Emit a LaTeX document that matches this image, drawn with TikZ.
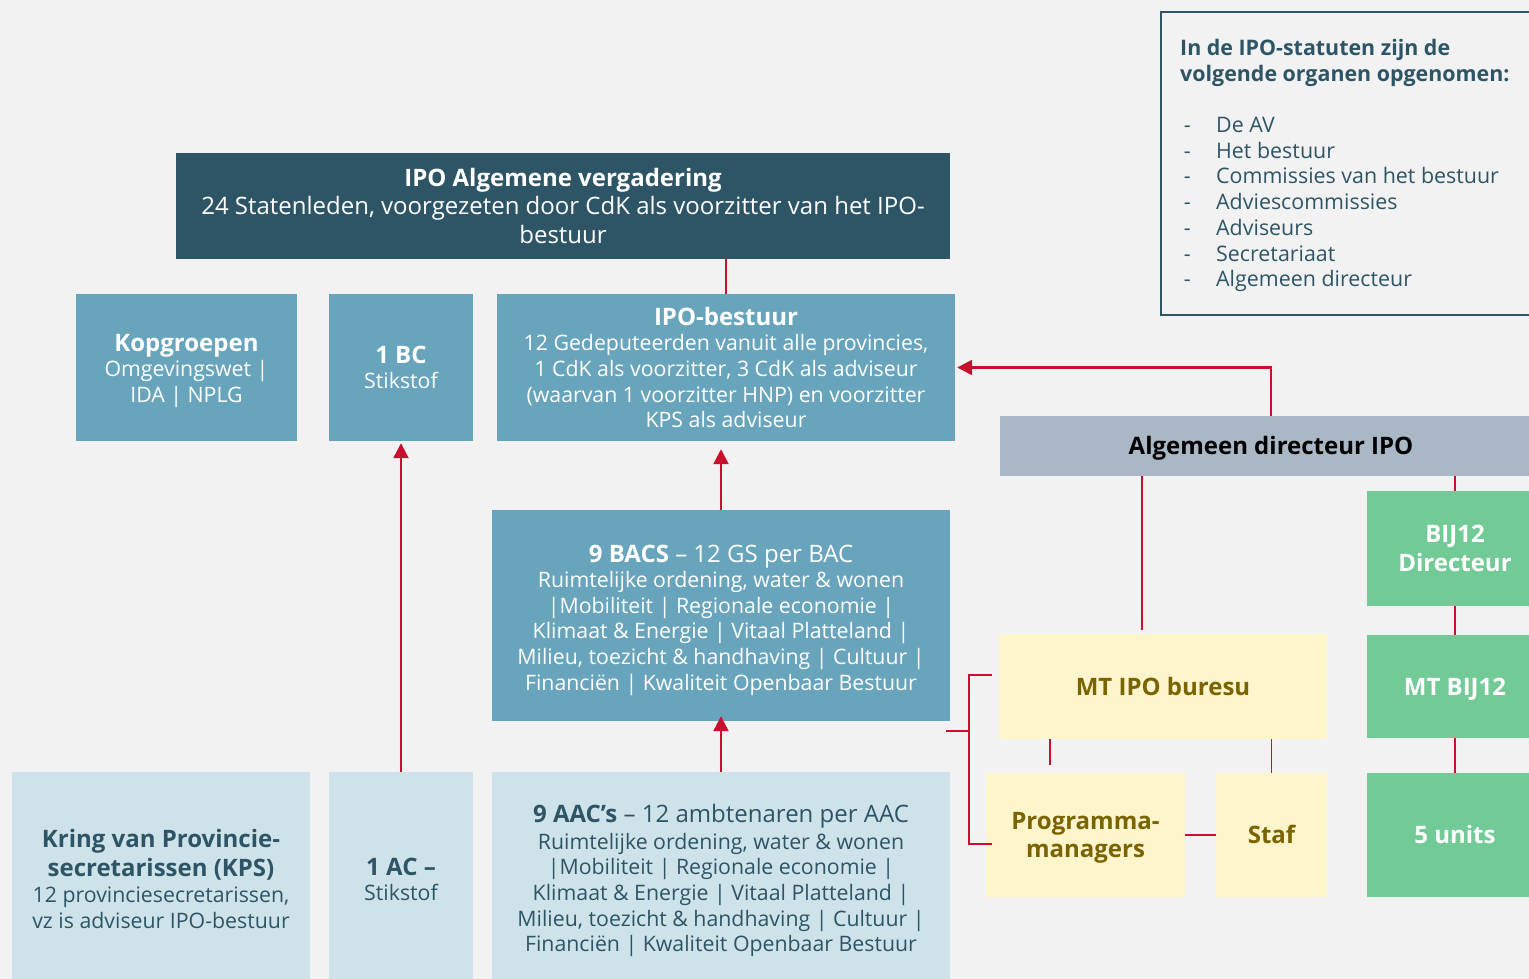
\documentclass[tikz,border=0pt]{standalone}
\usepackage{fontspec}
\setmainfont{Open Sans}
\usetikzlibrary{arrows.meta}
\definecolor{bg}{HTML}{F2F2F2}
\definecolor{dteal}{HTML}{2E5566}
\definecolor{mblue}{HTML}{68A5BC}
\definecolor{lblue}{HTML}{CDE2E9}
\definecolor{gblue}{HTML}{AAB7C4}
\definecolor{pyel}{HTML}{FFF5CC}
\definecolor{olive}{HTML}{7A6400}
\definecolor{grn}{HTML}{72CB97}
\definecolor{red}{HTML}{C8102E}
\tikzset{
  box/.style={rectangle, inner sep=0pt, align=center, font=\fontsize{21.3}{25.6}\selectfont},
  darkbox/.style={box, fill=dteal, text=white, font=\fontsize{24}{28.5}\selectfont},
  midbox/.style={box, fill=mblue, text=white},
  lightbox/.style={box, fill=lblue, text=dteal},
  graybox/.style={box, fill=gblue, text=black, font=\fontsize{24}{28.5}\selectfont\bfseries},
  yelbox/.style={box, fill=pyel, text=olive, font=\fontsize{24}{28.5}\selectfont\bfseries},
  grnbox/.style={box, fill=grn, text=white, font=\fontsize{24}{28.5}\selectfont\bfseries},
  oneline/.style={text height=17.2pt, text depth=0pt},
  txt/.style={inner sep=0pt, align=center, font=\fontsize{21.3}{25.6}\selectfont},
  conn/.style={draw=red, line width=1.8pt},
  arr/.style={draw=red, line width=2.4pt, -{Triangle[width=15pt,length=15pt]}},
}
\newcommand{\ttl}[1]{{\fontsize{24}{28}\selectfont\bfseries #1}}
\begin{document}
\begin{tikzpicture}[x=1pt,y=-1pt]
\fill[bg] (0,0) rectangle (1529,979);
\useasboundingbox (0,0) rectangle (1529,979);

% left/centre column
\node[darkbox, minimum width=774, minimum height=106] (av) at (563,206)
  {\textbf{IPO Algemene vergadering}\\24 Statenleden, voorgezeten door CdK als voorzitter van het IPO-\\bestuur};
\node[midbox, minimum width=221, minimum height=147] (kop) at (186.5,367.5) {};
\node[txt, text=white] (kopT) at ([yshift=-3.5pt]kop.center)
  {\ttl{Kopgroepen}\\Omgevingswet |\\IDA | NPLG};
\node[midbox, minimum width=144, minimum height=147] (bc) at (401,367.5)
  {\ttl{1 BC}\\Stikstof};
\node[midbox, minimum width=458, minimum height=147] (bestuur) at (726,367.5)
  {\ttl{IPO-bestuur}\\12 Gedeputeerden vanuit alle provincies,\\1 CdK als voorzitter, 3 CdK als adviseur\\(waarvan 1 voorzitter HNP) en voorzitter\\KPS als adviseur};
\node[midbox, minimum width=458, minimum height=211] (bacs) at (721,615.5) {};
\node[txt, text=white] (bacsT) at ([yshift=-4.5pt]bacs.center)
  {{\fontsize{24}{28}\selectfont\textbf{9 BACS} – 12 GS per BAC}\\Ruimtelijke ordening, water \& wonen\\|Mobiliteit | Regionale economie |\\Klimaat \& Energie | Vitaal Platteland |\\Milieu, toezicht \& handhaving | Cultuur |\\Financiën | Kwaliteit Openbaar Bestuur};
\node[lightbox, minimum width=458, minimum height=207] (aac) at (721,875.5) {};
\node[txt, text=dteal] (aacT) at ([yshift=-5pt]aac.center)
  {{\fontsize{24}{28}\selectfont\textbf{9 AAC’s} – 12 ambtenaren per AAC}\\[1.5pt]Ruimtelijke ordening, water \& wonen\\|Mobiliteit | Regionale economie |\\Klimaat \& Energie | Vitaal Platteland |\\Milieu, toezicht \& handhaving | Cultuur |\\Financiën | Kwaliteit Openbaar Bestuur};
\node[lightbox, minimum width=298, minimum height=207] (kps) at (161,875.5) {};
\node[txt, text=dteal] (kpsT) at ([yshift=-3.5pt]kps.center)
  {\ttl{Kring van Provincie-}\\[3pt]\ttl{secretarissen (KPS)}\\[1pt]12 provinciesecretarissen,\\vz is adviseur IPO-bestuur};
\node[lightbox, minimum width=144, minimum height=207] (ac) at (401,875.5) {};
\node[txt, text=dteal] (acT) at ([yshift=-4pt]ac.center)
  {\ttl{1 AC –}\\Stikstof};

% right part
\node[graybox, oneline, minimum width=542, minimum height=60] (dir) at (1271,446) {Algemeen directeur IPO};
\node[yelbox, oneline, minimum width=328, minimum height=105] (mt) at (1163,686.5) {MT IPO buresu};
\node[yelbox, minimum width=199, minimum height=124] (prog) at (1085.5,835) {};
\node[txt, text=olive, font=\fontsize{24}{28.5}\selectfont\bfseries] (progT) at ([yshift=-3pt]prog.center) {Programma-\\managers};
\node[yelbox, oneline, minimum width=111, minimum height=124] (staf) at (1271.5,835) {Staf};
\node[grnbox, minimum width=176, minimum height=115] (bij) at (1455,548.5) {BIJ12\\Directeur};
\node[grnbox, oneline, minimum width=176, minimum height=103] (mtbij) at (1455,686.5) {MT BIJ12};
\node[grnbox, oneline, minimum width=176, minimum height=124] (units) at (1455,835) {5 units};

% info box
\draw[dteal, line width=2.5pt] (1161,12) rectangle (1548,315);
\node[anchor=north west, align=left, text=dteal, inner sep=0pt,
      font=\fontsize{21.4}{26}\selectfont\bfseries] (infoh) at (1180,39.5)
  {In de IPO-statuten zijn de\\volgende organen opgenomen:};
\node[anchor=north west, align=left, text=dteal, inner sep=0pt,
      font=\fontsize{21.4}{25.7}\selectfont] (infol) at (1180,117)
  {\makebox[36pt][l]{\,-}De AV\\\makebox[36pt][l]{\,-}Het bestuur\\\makebox[36pt][l]{\,-}Commissies van het bestuur\\\makebox[36pt][l]{\,-}Adviescommissies\\\makebox[36pt][l]{\,-}Adviseurs\\\makebox[36pt][l]{\,-}Secretariaat\\\makebox[36pt][l]{\,-}Algemeen directeur};

% connectors
\draw[conn] (bestuur.north |- av.south) -- (bestuur.north);
\draw[arr, shorten >=8pt] (bacs.north) -- (bacs.north |- bestuur.south);
\draw[arr, shorten >=-5pt] (aac.north) -- (bacs.south);
\draw[arr, shorten >=2pt] (ac.north) -- (bc.south);
\draw[arr, shorten >=2pt] (dir.north) |- (bestuur.east);
\coordinate (d1) at (1142,630);
\draw[conn] (dir.south -| d1) -- (d1);
\coordinate (m1) at (1050,765);
\draw[conn] (mt.south -| m1) -- (m1);
\draw[conn] (mt.south -| staf.north) -- (staf.north);
\draw[conn] (prog.east) -- (staf.west);
\coordinate (b0) at (946,731);
\coordinate (b1) at (969,731);
\coordinate (b2) at (992,675);
\coordinate (b3) at (992,844);
\draw[conn] (b0) -- (b1);
\draw[conn] (b2) -| (b1) |- (b3);
\draw[conn] (dir.south -| bij.north) -- (bij.north);
\draw[conn] (bij.south) -- (mtbij.north);
\draw[conn] (mtbij.south) -- (units.north);
\end{tikzpicture}
\end{document}
